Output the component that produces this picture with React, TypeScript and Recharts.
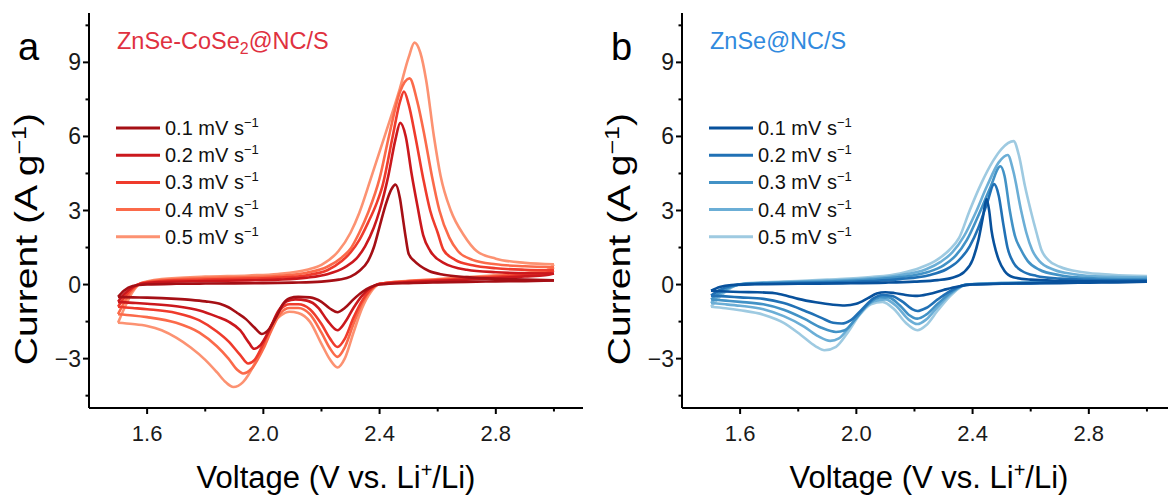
import React from 'react';
import { LineChart, Line, XAxis, YAxis } from 'recharts';

type Pt = [number, number];

// ---------- axis ticks ----------
const xMajorTicks = [1.6, 2.0, 2.4, 2.8];
const xMinorTicks = [1.8, 2.2, 2.6, 3.0];
const yMajorTicks = [-3, 0, 3, 6, 9];
const yMinorTicks = [-4.5, -1.5, 1.5, 4.5, 7.5, 10.5];
const xDomain: [number, number] = [1.4, 3.1];
const yDomain: [number, number] = [-5, 11];

// ---------- legend / labels ----------
const scanRates = ['0.1', '0.2', '0.3', '0.4', '0.5'];
const redColors = ['#a50f15', '#cb181d', '#ef3b2c', '#fb6a4a', '#fc9272'];
const blueColors = ['#08519c', '#2171b5', '#4292c6', '#6baed6', '#9ecae1'];

// ---------- panel a: ZnSe-CoSe2@NC/S  [V, I] ----------
const a01Anodic: Pt[] = [[1.50,-0.50],[1.52,-0.25],[1.55,-0.06],[1.60,0.00],[1.70,0.03],[1.80,0.04],[1.90,0.05],[2.00,0.06],[2.10,0.08],[2.20,0.12],[2.26,0.20],[2.30,0.32],[2.33,0.55],[2.36,0.95],[2.38,1.50],[2.40,2.35],[2.42,3.20],[2.44,3.85],[2.455,4.05],[2.47,3.50],[2.48,2.70],[2.49,1.90],[2.50,1.25],[2.52,0.95],[2.54,0.75],[2.57,0.55],[2.62,0.40],[2.70,0.30],[2.80,0.23],[2.90,0.20],[3.00,0.17]];
const a01Cathodic: Pt[] = [[1.50,-0.50],[1.55,-0.52],[1.60,-0.53],[1.70,-0.58],[1.75,-0.62],[1.80,-0.68],[1.85,-0.78],[1.88,-0.92],[1.91,-1.15],[1.94,-1.40],[1.97,-1.75],[1.995,-2.00],[2.02,-1.80],[2.045,-1.30],[2.07,-0.75],[2.09,-0.55],[2.12,-0.50],[2.16,-0.52],[2.20,-0.70],[2.23,-0.98],[2.255,-1.12],[2.28,-0.95],[2.31,-0.60],[2.34,-0.30],[2.37,-0.10],[2.40,0.00],[2.50,0.06],[2.60,0.09],[2.70,0.11],[2.80,0.13],[2.90,0.14],[3.00,0.17]];

const a02Anodic: Pt[] = [[1.50,-0.70],[1.52,-0.40],[1.55,-0.10],[1.58,0.03],[1.65,0.10],[1.80,0.14],[1.95,0.17],[2.05,0.20],[2.15,0.28],[2.22,0.42],[2.28,0.70],[2.32,1.05],[2.35,1.55],[2.38,2.30],[2.40,3.00],[2.43,4.40],[2.455,5.90],[2.471,6.55],[2.49,6.00],[2.51,4.50],[2.53,3.20],[2.55,2.00],[2.575,1.35],[2.62,0.88],[2.70,0.60],[2.80,0.50],[2.90,0.46],[3.00,0.45]];
const a02Cathodic: Pt[] = [[1.50,-0.70],[1.55,-0.74],[1.60,-0.78],[1.70,-0.88],[1.78,-1.05],[1.84,-1.30],[1.88,-1.50],[1.92,-1.85],[1.95,-2.35],[1.968,-2.60],[1.99,-2.45],[2.02,-1.85],[2.05,-1.10],[2.08,-0.68],[2.11,-0.60],[2.15,-0.65],[2.19,-0.95],[2.22,-1.45],[2.255,-1.85],[2.28,-1.55],[2.31,-0.95],[2.34,-0.45],[2.37,-0.12],[2.40,0.02],[2.50,0.10],[2.60,0.15],[2.70,0.20],[2.80,0.26],[2.90,0.33],[2.97,0.38],[3.00,0.45]];

const a03Anodic: Pt[] = [[1.50,-0.90],[1.52,-0.55],[1.55,-0.15],[1.58,0.05],[1.65,0.14],[1.80,0.20],[1.95,0.24],[2.05,0.28],[2.15,0.38],[2.22,0.58],[2.27,0.95],[2.30,1.30],[2.33,1.80],[2.36,2.50],[2.39,3.30],[2.41,4.00],[2.445,6.00],[2.47,7.40],[2.484,7.82],[2.50,7.30],[2.523,6.00],[2.55,4.30],[2.574,3.00],[2.60,2.10],[2.62,1.40],[2.66,1.00],[2.72,0.78],[2.80,0.66],[2.90,0.60],[3.00,0.58]];
const a03Cathodic: Pt[] = [[1.50,-0.90],[1.55,-0.95],[1.60,-1.00],[1.70,-1.15],[1.78,-1.45],[1.84,-1.90],[1.88,-2.30],[1.92,-2.85],[1.948,-3.20],[1.97,-3.05],[2.00,-2.40],[2.03,-1.60],[2.06,-1.00],[2.09,-0.80],[2.12,-0.80],[2.16,-1.00],[2.20,-1.60],[2.23,-2.20],[2.255,-2.53],[2.28,-2.20],[2.31,-1.35],[2.34,-0.65],[2.37,-0.18],[2.40,0.03],[2.50,0.12],[2.60,0.18],[2.70,0.24],[2.80,0.31],[2.90,0.40],[2.97,0.46],[3.00,0.58]];

const a04Anodic: Pt[] = [[1.50,-1.20],[1.52,-0.75],[1.55,-0.22],[1.58,0.05],[1.65,0.18],[1.80,0.26],[1.95,0.30],[2.05,0.35],[2.15,0.48],[2.22,0.72],[2.27,1.10],[2.30,1.45],[2.33,2.10],[2.36,2.90],[2.40,4.30],[2.432,6.00],[2.47,7.80],[2.503,8.35],[2.53,7.40],[2.555,6.00],[2.58,4.40],[2.606,3.00],[2.64,1.90],[2.67,1.35],[2.72,1.00],[2.80,0.82],[2.90,0.74],[3.00,0.70]];
const a04Cathodic: Pt[] = [[1.50,-1.20],[1.55,-1.25],[1.60,-1.32],[1.70,-1.55],[1.78,-1.95],[1.84,-2.50],[1.88,-3.00],[1.91,-3.45],[1.93,-3.60],[1.96,-3.40],[2.00,-2.60],[2.03,-1.80],[2.06,-1.15],[2.09,-0.95],[2.12,-0.95],[2.16,-1.20],[2.20,-1.95],[2.23,-2.60],[2.255,-2.93],[2.28,-2.55],[2.31,-1.60],[2.34,-0.75],[2.37,-0.22],[2.40,0.03],[2.50,0.14],[2.60,0.20],[2.70,0.27],[2.80,0.35],[2.90,0.45],[2.97,0.52],[3.00,0.70]];

const a05Anodic: Pt[] = [[1.50,-1.55],[1.52,-1.00],[1.55,-0.30],[1.58,0.06],[1.65,0.22],[1.80,0.32],[1.95,0.37],[2.05,0.43],[2.15,0.60],[2.20,0.80],[2.258,1.35],[2.30,2.10],[2.33,2.90],[2.37,4.30],[2.42,6.10],[2.47,7.95],[2.50,9.20],[2.52,9.80],[2.54,9.40],[2.56,8.30],[2.587,6.00],[2.61,4.40],[2.645,3.00],[2.69,2.00],[2.735,1.35],[2.80,1.05],[2.90,0.88],[3.00,0.82]];
const a05Cathodic: Pt[] = [[1.50,-1.55],[1.55,-1.60],[1.60,-1.68],[1.65,-1.85],[1.70,-2.15],[1.75,-2.55],[1.80,-3.05],[1.84,-3.55],[1.87,-3.95],[1.897,-4.15],[1.93,-3.95],[1.97,-3.20],[2.00,-2.40],[2.03,-1.60],[2.06,-1.25],[2.09,-1.10],[2.12,-1.15],[2.16,-1.50],[2.20,-2.40],[2.23,-3.05],[2.255,-3.36],[2.28,-3.00],[2.31,-1.95],[2.34,-0.95],[2.37,-0.30],[2.40,0.02],[2.50,0.15],[2.60,0.22],[2.70,0.30],[2.80,0.38],[2.90,0.48],[2.97,0.56],[3.00,0.82]];

// ---------- panel b: ZnSe@NC/S  [V, I] ----------
const b01Anodic: Pt[] = [[1.50,-0.25],[1.53,-0.10],[1.57,-0.02],[1.65,0.01],[1.80,0.03],[1.95,0.05],[2.10,0.08],[2.20,0.12],[2.28,0.18],[2.33,0.28],[2.37,0.50],[2.40,1.00],[2.42,1.80],[2.435,2.70],[2.448,3.46],[2.457,3.00],[2.465,2.20],[2.475,1.60],[2.49,1.00],[2.51,0.55],[2.54,0.30],[2.60,0.20],[2.70,0.15],[2.80,0.13],[2.90,0.12],[3.00,0.12]];
const b01Cathodic: Pt[] = [[1.50,-0.25],[1.55,-0.28],[1.60,-0.30],[1.66,-0.31],[1.72,-0.35],[1.76,-0.45],[1.80,-0.58],[1.86,-0.72],[1.92,-0.82],[1.96,-0.85],[2.00,-0.78],[2.04,-0.55],[2.07,-0.36],[2.10,-0.31],[2.13,-0.34],[2.17,-0.42],[2.21,-0.46],[2.25,-0.38],[2.30,-0.22],[2.35,-0.08],[2.40,0.00],[2.50,0.03],[2.60,0.05],[2.70,0.06],[2.80,0.08],[2.90,0.09],[3.00,0.12]];

const b02Anodic: Pt[] = [[1.50,-0.45],[1.53,-0.22],[1.57,-0.05],[1.62,0.02],[1.75,0.05],[1.90,0.08],[2.05,0.14],[2.15,0.22],[2.25,0.38],[2.31,0.62],[2.35,0.95],[2.39,1.55],[2.42,2.30],[2.45,3.30],[2.474,4.07],[2.49,3.60],[2.505,2.50],[2.52,1.50],[2.54,0.90],[2.57,0.55],[2.62,0.35],[2.70,0.24],[2.80,0.19],[2.90,0.17],[3.00,0.17]];
const b02Cathodic: Pt[] = [[1.50,-0.45],[1.55,-0.48],[1.60,-0.52],[1.68,-0.58],[1.75,-0.75],[1.82,-1.05],[1.88,-1.35],[1.92,-1.55],[1.95,-1.58],[1.98,-1.45],[2.02,-1.00],[2.06,-0.55],[2.09,-0.42],[2.12,-0.45],[2.16,-0.70],[2.19,-0.98],[2.21,-1.07],[2.24,-0.95],[2.28,-0.60],[2.33,-0.22],[2.38,0.00],[2.50,0.04],[2.60,0.06],[2.70,0.08],[2.80,0.10],[2.90,0.12],[3.00,0.17]];

const b03Anodic: Pt[] = [[1.50,-0.60],[1.53,-0.32],[1.57,-0.08],[1.62,0.03],[1.75,0.08],[1.90,0.12],[2.05,0.20],[2.15,0.30],[2.25,0.52],[2.30,0.78],[2.34,1.15],[2.38,1.80],[2.42,2.80],[2.46,3.90],[2.496,4.79],[2.51,4.40],[2.528,3.00],[2.545,2.00],[2.567,1.40],[2.59,0.95],[2.63,0.60],[2.70,0.38],[2.80,0.26],[2.90,0.22],[3.00,0.22]];
const b03Cathodic: Pt[] = [[1.50,-0.60],[1.55,-0.65],[1.60,-0.70],[1.68,-0.80],[1.75,-1.02],[1.82,-1.38],[1.88,-1.75],[1.93,-1.92],[1.96,-1.85],[2.00,-1.35],[2.04,-0.80],[2.08,-0.52],[2.11,-0.52],[2.15,-0.85],[2.18,-1.22],[2.21,-1.38],[2.24,-1.22],[2.28,-0.78],[2.33,-0.28],[2.38,0.00],[2.50,0.05],[2.60,0.07],[2.70,0.09],[2.80,0.11],[2.90,0.14],[3.00,0.22]];

const b04Anodic: Pt[] = [[1.50,-0.75],[1.53,-0.40],[1.57,-0.10],[1.62,0.04],[1.75,0.10],[1.90,0.16],[2.05,0.25],[2.15,0.38],[2.24,0.62],[2.29,0.92],[2.33,1.30],[2.37,1.95],[2.41,2.90],[2.45,4.00],[2.49,4.95],[2.521,5.25],[2.54,4.60],[2.567,3.00],[2.585,2.10],[2.605,1.40],[2.63,0.95],[2.68,0.60],[2.75,0.42],[2.85,0.32],[3.00,0.28]];
const b04Cathodic: Pt[] = [[1.50,-0.75],[1.55,-0.80],[1.60,-0.86],[1.68,-1.00],[1.75,-1.28],[1.82,-1.70],[1.87,-2.10],[1.91,-2.28],[1.94,-2.18],[1.98,-1.65],[2.02,-1.05],[2.06,-0.68],[2.10,-0.60],[2.14,-0.90],[2.18,-1.42],[2.21,-1.60],[2.24,-1.42],[2.28,-0.90],[2.33,-0.32],[2.38,0.00],[2.50,0.06],[2.60,0.08],[2.70,0.10],[2.80,0.13],[2.90,0.17],[3.00,0.28]];

const b05Anodic: Pt[] = [[1.50,-0.90],[1.53,-0.50],[1.57,-0.12],[1.62,0.05],[1.75,0.12],[1.90,0.20],[2.05,0.30],[2.15,0.45],[2.22,0.68],[2.28,1.02],[2.32,1.40],[2.354,1.90],[2.39,3.00],[2.43,4.10],[2.47,5.00],[2.50,5.50],[2.541,5.81],[2.56,5.20],[2.58,4.00],[2.60,3.00],[2.62,2.10],[2.637,1.40],[2.66,1.00],[2.70,0.72],[2.78,0.50],[2.88,0.40],[3.00,0.34]];
const b05Cathodic: Pt[] = [[1.50,-0.90],[1.55,-0.96],[1.60,-1.04],[1.68,-1.22],[1.75,-1.55],[1.81,-2.05],[1.86,-2.50],[1.89,-2.66],[1.93,-2.52],[1.97,-1.95],[2.01,-1.25],[2.05,-0.80],[2.09,-0.70],[2.13,-1.00],[2.17,-1.55],[2.21,-1.85],[2.24,-1.65],[2.28,-1.05],[2.33,-0.38],[2.38,0.00],[2.50,0.07],[2.60,0.09],[2.70,0.12],[2.80,0.15],[2.90,0.19],[3.00,0.34]];

const panelACurves: [Pt[], Pt[]][] = [
  [a01Anodic, a01Cathodic], [a02Anodic, a02Cathodic], [a03Anodic, a03Cathodic], [a04Anodic, a04Cathodic], [a05Anodic, a05Cathodic],
];
const panelBCurves: [Pt[], Pt[]][] = [
  [b01Anodic, b01Cathodic], [b02Anodic, b02Cathodic], [b03Anodic, b03Cathodic], [b04Anodic, b04Cathodic], [b05Anodic, b05Cathodic],
];

// ---------- layout ----------
const FONT = "'Liberation Sans', Arial, Helvetica, sans-serif";
const PANEL_W = 593;
const H = 497;
const PLOT_LEFT = 89;
const PLOT_TOP = 13;
const PLOT_BOTTOM = 408;
const PLOT_RIGHT = 583;
const Y_AXIS_W = 60;
const X_AXIS_H = 40;

const isIn = (arr: number[], v: number) => arr.some((t) => Math.abs(t - v) < 1e-6);

const XTick = (props: any) => {
  const { x, y, payload } = props;
  const v = payload.value as number;
  const major = isIn(xMajorTicks, v);
  return (
    <g>
      <line x1={x} x2={x} y1={y} y2={y + (major ? 6 : 3.5)} stroke="#000" strokeWidth={2} />
      {major && (
        <text x={x} y={y + 33} textAnchor="middle" fontSize={22} fill="#1a1a1a" fontFamily={FONT}>
          {v.toFixed(1)}
        </text>
      )}
    </g>
  );
};

const YTick = (props: any) => {
  const { x, y, payload } = props;
  const v = payload.value as number;
  const major = isIn(yMajorTicks, v);
  return (
    <g>
      <line x1={x} x2={x - (major ? 6 : 3.5)} y1={y} y2={y} stroke="#000" strokeWidth={2} />
      {major && (
        <text x={x - 8} y={y + 8} textAnchor="end" fontSize={23} fill="#1a1a1a" fontFamily={FONT}>
          {v < 0 ? `\u2212${-v}` : `${v}`}
        </text>
      )}
    </g>
  );
};

const toRows = (pts: Pt[]) => pts.map(([v, c]) => ({ v, c }));

type PanelProps = {
  left: number;
  letter: string;
  title: React.ReactNode;
  titleColor: string;
  curves: [Pt[], Pt[]][];
  colors: string[];
};

const Panel = ({ left, letter, title, titleColor, curves, colors }: PanelProps) => {
  const order = [4, 3, 2, 1, 0];
  return (
    <div style={{ position: 'absolute', left, top: 0, width: PANEL_W, height: H }}>
      <LineChart
        width={PANEL_W}
        height={H}
        margin={{ top: PLOT_TOP, right: PANEL_W - PLOT_RIGHT, left: PLOT_LEFT - Y_AXIS_W, bottom: H - PLOT_BOTTOM - X_AXIS_H }}
      >
        <XAxis
          dataKey="v"
          type="number"
          domain={xDomain}
          allowDataOverflow
          ticks={[...xMajorTicks, ...xMinorTicks].sort((a, b) => a - b)}
          interval={0}
          tick={<XTick />}
          tickLine={false}
          tickSize={0}
          tickMargin={0}
          height={X_AXIS_H}
          axisLine={{ stroke: '#000', strokeWidth: 2 }}
        />
        <XAxis
          xAxisId="frameTop"
          orientation="top"
          type="number"
          domain={xDomain}
          allowDataOverflow
          tick={false}
          tickLine={false}
          height={0}
          axisLine={{ stroke: '#000', strokeWidth: 2 }}
        />
        <YAxis
          type="number"
          domain={yDomain}
          allowDataOverflow
          ticks={[...yMajorTicks, ...yMinorTicks].sort((a, b) => a - b)}
          interval={0}
          tick={<YTick />}
          tickLine={false}
          tickSize={0}
          tickMargin={0}
          width={Y_AXIS_W}
          axisLine={{ stroke: '#000', strokeWidth: 2 }}
        />
        <YAxis
          yAxisId="frameRight"
          orientation="right"
          type="number"
          domain={yDomain}
          allowDataOverflow
          tick={false}
          tickLine={false}
          width={0}
          axisLine={{ stroke: '#000', strokeWidth: 2 }}
        />
        {order.map((i) => [
          <Line
            key={`an-${i}`}
            data={toRows(curves[i][0])}
            dataKey="c"
            type="monotone"
            stroke={colors[i]}
            strokeWidth={2.6}
            dot={false}
            activeDot={false}
            isAnimationActive={false}
          />,
          <Line
            key={`ca-${i}`}
            data={toRows(curves[i][1])}
            dataKey="c"
            type="monotone"
            stroke={colors[i]}
            strokeWidth={2.6}
            dot={false}
            activeDot={false}
            isAnimationActive={false}
          />,
        ])}
      </LineChart>
      <svg
        width={PANEL_W}
        height={H}
        style={{ position: 'absolute', left: 0, top: 0, pointerEvents: 'none', overflow: 'visible' }}
        fontFamily={FONT}
      >
        <text x={18} y={60} fontSize={38} fill="#000">{letter}</text>
        <text x={117} y={49} fontSize={23.5} fill={titleColor}>{title}</text>
        {scanRates.map((r, i) => {
          const yy = 128 + i * 27.2;
          return (
            <g key={r}>
              <line x1={116} x2={160} y1={yy} y2={yy} stroke={colors[i]} strokeWidth={3} />
              <text x={165} y={yy + 7} fontSize={20} fill="#111">
                {`${r} mV s`}
                <tspan dy={-8} fontSize={13}>{'\u22121'}</tspan>
              </text>
            </g>
          );
        })}
        <text x={(PLOT_LEFT + PLOT_RIGHT) / 2} y={488} fontSize={31} textAnchor="middle" fill="#000">
          Voltage (V vs. Li<tspan dy={-11} fontSize={20}>+</tspan><tspan dy={11}>/Li)</tspan>
        </text>
        <text transform="translate(37,239) rotate(-90) scale(1.26,1)" x={0} y={0} fontSize={31} textAnchor="middle" fill="#000">
          Current (A g<tspan dy={-11} fontSize={20}>{'\u22121'}</tspan><tspan dy={11}>)</tspan>
        </text>
      </svg>
    </div>
  );
};

export default function App() {
  return (
    <div style={{ position: 'absolute', left: 0, top: 0, width: 1168, height: H, overflow: 'hidden', background: '#fff' }}>
      <Panel
        left={0}
        letter="a"
        titleColor="#e0313f"
        title={<>ZnSe-CoSe<tspan dy={5} fontSize={16}>2</tspan><tspan dy={-5}>@NC/S</tspan></>}
        curves={panelACurves}
        colors={redColors}
      />
      <Panel
        left={PANEL_W}
        letter="b"
        titleColor="#318ade"
        title={<>ZnSe@NC/S</>}
        curves={panelBCurves}
        colors={blueColors}
      />
    </div>
  );
}
